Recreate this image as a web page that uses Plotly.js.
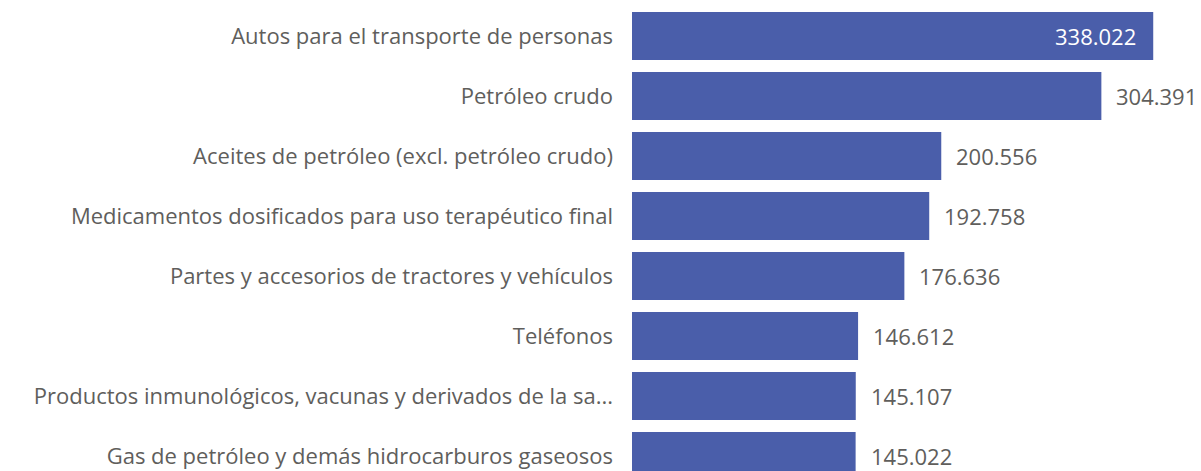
<!DOCTYPE html>
<html>
<head>
<meta charset="utf-8">
<script src="https://cdn.plot.ly/plotly-3.0.1.min.js"></script>
<style>
  html, body { margin: 0; padding: 0; background: #fff; }
  #chart { width: 1201px; height: 471px; }
</style>
</head>
<body>
<div id="chart"></div>
<script>
// Productos y valores (miles)
const productos = [
    'Autos para el transporte de personas',
    'Petróleo crudo',
    'Aceites de petróleo (excl. petróleo crudo)',
    'Medicamentos dosificados para uso terapéutico final',
    'Partes y accesorios de tractores y vehículos',
    'Teléfonos',
    'Productos inmunológicos, vacunas y derivados de la sa...',
    'Gas de petróleo y demás hidrocarburos gaseosos'
];
const valores = [338022, 304391, 200556, 192758, 176636, 146612, 145107, 145022];

const barColor = '#4a5eaa';
const textColor = '#605e5c';
const fontFamily = '"Segoe UI", "Open Sans", "Noto Sans", sans-serif';

const trace = {
    type: 'bar',
    orientation: 'h',
    x: valores,
    y: productos,
    width: 0.8,
    marker: { color: barColor },
    hoverinfo: 'none'
};

// etiquetas de datos: la primera dentro de la barra, el resto fuera
const annotations = valores.map((v, i) => {
    const inside = i === 0;
    return {
        x: v,
        y: productos[i],
        xref: 'x',
        yref: 'y',
        text: v.toLocaleString('de-DE'),
        showarrow: false,
        xanchor: inside ? 'right' : 'left',
        xshift: inside ? -15 : 13,
        font: { family: fontFamily, size: 22, color: inside ? '#ffffff' : textColor }
    };
});

const layout = {
    width: 1201,
    height: 471,
    margin: { l: 632, r: 0, t: 6, b: 0, pad: 0 },
    paper_bgcolor: '#ffffff',
    plot_bgcolor: '#ffffff',
    showlegend: false,
    font: { family: fontFamily, size: 22, color: textColor },
    xaxis: {
        range: [0, 369000],
        visible: false,
        fixedrange: true
    },
    yaxis: {
        type: 'category',
        range: [7.25, -0.5],
        showgrid: false,
        zeroline: false,
        showline: false,
        ticks: '',
        ticklabelstandoff: 18,
        tickfont: { family: fontFamily, size: 22, color: textColor },
        fixedrange: true
    },
    annotations: annotations
};

Plotly.newPlot('chart', [trace], layout, { displayModeBar: false, staticPlot: true });
</script>
</body>
</html>
